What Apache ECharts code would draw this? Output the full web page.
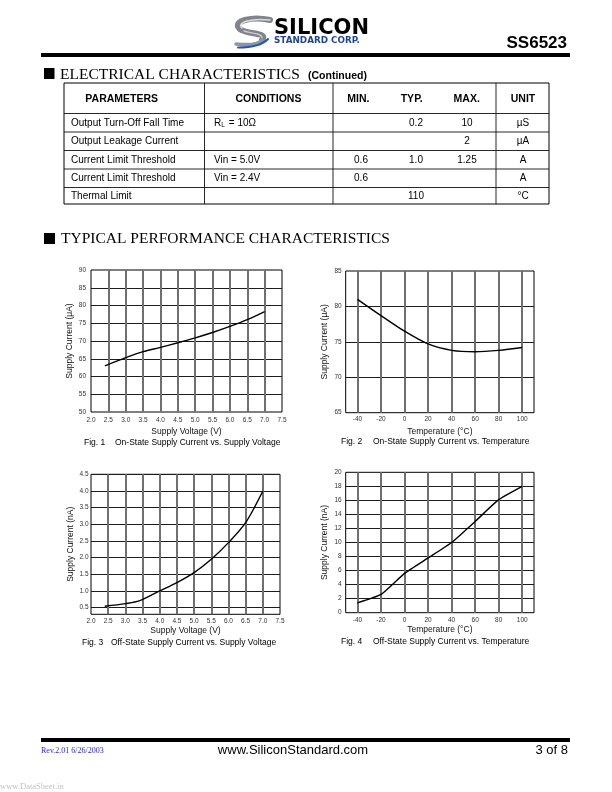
<!DOCTYPE html>
<html><head><meta charset="utf-8">
<script src="https://cdn.jsdelivr.net/npm/echarts@6/dist/echarts.min.js"></script>
<style>html,body{margin:0;padding:0;background:#fff}#c{width:612px;height:792px}</style>
</head><body><div id="c"></div>
<script>
// ---------- data ----------
const fig1Voltage = [2.4, 3.0, 3.5, 4.0, 4.5, 5.0, 5.5, 6.0, 6.5, 7.0];
const fig1Current = [63.0, 65.3, 67.0, 68.2, 69.5, 70.9, 72.4, 74.1, 76.0, 78.3];
const fig2Temp = [-40, -20, 0, 20, 40, 60, 80, 100];
const fig2Current = [81.0, 78.7, 76.5, 74.7, 73.8, 73.6, 73.8, 74.2];
const fig3Voltage = [2.4, 3.0, 3.4, 4.0, 4.5, 5.0, 5.5, 6.0, 6.5, 7.0];
const fig3Current = [0.54, 0.62, 0.70, 1.0, 1.25, 1.55, 1.95, 2.45, 3.05, 4.0];
const fig4Temp = [-40, -20, 0, 20, 40, 60, 80, 100];
const fig4Current = [1.4, 2.6, 5.6, 7.8, 10.0, 13.0, 16.1, 18.0];

const tableHeaders = ['PARAMETERS', 'CONDITIONS', 'MIN.', 'TYP.', 'MAX.', 'UNIT'];
const tableParameters = ['Output Turn-Off Fall Time', 'Output Leakage Current', 'Current Limit Threshold', 'Current Limit Threshold', 'Thermal Limit'];
const tableConditions = ['R_L = 10\u03A9', '', 'Vin = 5.0V', 'Vin = 2.4V', ''];
const tableMin = ['', '', '0.6', '0.6', ''];
const tableTyp = ['0.2', '', '1.0', '', '110'];
const tableMax = ['10', '2', '1.25', '', ''];
const tableUnit = ['\u00b5S', '\u00b5A', 'A', 'A', '\u00b0C'];

const figCaptions = ['On-State Supply Current vs. Supply Voltage', 'On-State Supply Current vs. Temperature',
                     'Off-State Supply Current vs. Supply Voltage', 'Off-State Supply Current vs. Temperature'];

// ---------- helpers ----------
const SANS = '"Liberation Sans", Arial, Helvetica, sans-serif';
const SERIF = '"Liberation Serif", "Times New Roman", serif';
const T = 'rgba(0,0,0,0)';

function txt(x, y, text, o) {
  o = o || {};
  const size = o.size || 10;
  const font = (o.bold ? 'bold ' : '') + size + 'px ' + (o.family || SANS);
  const al = o.align || 'left';
  return { type: 'text', x: x, y: y, silent: true, z: 10,
    style: { text: text, font: font, fill: o.color || '#000',
      align: al, textAlign: al, verticalAlign: 'middle', textVerticalAlign: 'middle' } };
}
function hline(x1, x2, y, w, c) {
  return { type: 'line', silent: true, z: 5, shape: { x1: x1, y1: y, x2: x2, y2: y }, style: { stroke: c || '#000', lineWidth: w || 1 } };
}
function vline(x, y1, y2, w, c) {
  return { type: 'line', silent: true, z: 5, shape: { x1: x, y1: y1, x2: x, y2: y2 }, style: { stroke: c || '#000', lineWidth: w || 1 } };
}
function rect(x, y, w, h, fill) {
  return { type: 'rect', silent: true, z: 5, shape: { x: x, y: y, width: w, height: h }, style: { fill: fill || '#000' } };
}
function bez(x1, y1, c1x, c1y, c2x, c2y, x2, y2, w, color) {
  return { type: 'bezierCurve', silent: true, z: 6,
    shape: { x1: x1, y1: y1, cpx1: c1x, cpy1: c1y, cpx2: c2x, cpy2: c2y, x2: x2, y2: y2 },
    style: { stroke: color, lineWidth: w, fill: null, lineCap: 'round' } };
}

// ---------- graphic (page furniture, table) ----------
const g = [];
// logo swoosh
g.push(bez(270, 20, 252, 16, 231, 21, 240, 29, 6, '#80848c'));
g.push(bez(240, 29, 247, 35, 269, 32, 262, 40, 6, '#80848c'));
g.push(bez(270, 20, 252, 18, 236, 22, 242, 28, 1.6, '#dcdee2'));
g.push(bez(244, 31, 252, 34, 262, 33, 262, 38, 1.4, '#c8cacf'));
g.push(bez(262, 40, 258, 45, 246, 45, 236, 44, 3.5, '#90949c'));
g.push(bez(238, 47.5, 250, 47.5, 262, 45.5, 268, 39, 2, '#1f56b8'));
g.push({ type: 'text', x: 274, y: 28.5, silent: true, z: 10,
  style: { text: 'SILICON', font: 'bold 21px "DejaVu Sans", sans-serif', align: 'left', textAlign: 'left', verticalAlign: 'middle', textVerticalAlign: 'middle',
    fill: { type: 'linear', x: 0, y: 0, x2: 0, y2: 1, colorStops: [{ offset: 0, color: '#3d74cc' }, { offset: 0.5, color: '#1d4fa6' }, { offset: 1, color: '#0c2f78' }] } } });
g.push(txt(274, 40.5, 'STANDARD CORP.', { size: 8.8, bold: true, family: '"DejaVu Sans", sans-serif', color: '#1d4595' }));
g.push(txt(567, 43.5, 'SS6523', { size: 17, bold: true, align: 'right' }));
g.push(rect(41, 53, 529, 4));

// section 1 header
g.push(rect(44, 68, 10.5, 11));
g.push(txt(60, 75, 'ELECTRICAL CHARACTERISTICS', { size: 15.5, family: SERIF }));
g.push(txt(308, 76, '(Continued)', { size: 10.5, bold: true }));

// table
const tL = 64, tR = 549, tT = 83, tB = 204;
g.push({ type: 'rect', silent: true, z: 5, shape: { x: tL, y: tT, width: tR - tL, height: tB - tT }, style: { fill: null, stroke: '#000', lineWidth: 1 } });
const rowLines = [113.5, 132, 150.5, 169, 187.5];
rowLines.forEach(function (y) { g.push(hline(tL, tR, y, 0.9, '#111')); });
[204.5, 333, 496].forEach(function (x) { g.push(vline(x, tT, tB, 0.9, '#111')); });
const headX = [121.7, 268.5, 358.3, 411.7, 466.7, 523];
tableHeaders.forEach(function (h, i) { g.push(txt(headX[i], 99.5, h, { size: 10.5, bold: true, align: 'center' })); });
const rowY = [123, 141.3, 159.8, 178.2, 196.6];
tableParameters.forEach(function (p, i) {
  const y = rowY[i];
  g.push(txt(71, y, p, { size: 10 }));
  const c = tableConditions[i];
  if (c.indexOf('R_L') === 0) {
    g.push(txt(214, y, 'R', { size: 10 }));
    g.push(txt(221.3, y + 2.5, 'L', { size: 6.5 }));
    g.push(txt(226, y, c.slice(3), { size: 10 }));
  } else if (c) {
    g.push(txt(214, y, c, { size: 10 }));
  }
  if (tableMin[i]) g.push(txt(361, y, tableMin[i], { size: 10, align: 'center' }));
  if (tableTyp[i]) g.push(txt(416, y, tableTyp[i], { size: 10, align: 'center' }));
  if (tableMax[i]) g.push(txt(467, y, tableMax[i], { size: 10, align: 'center' }));
  if (tableUnit[i]) g.push(txt(523, y, tableUnit[i], { size: 10, align: 'center' }));
});

// section 2 header
g.push(rect(44, 233, 11, 11));
g.push(txt(61, 239, 'TYPICAL PERFORMANCE CHARACTERISTICS', { size: 15.5, family: SERIF }));

// figure captions
const capPos = [[84, 115, 443], [341, 373, 442], [82, 111, 642.5], [341, 373, 641.5]];
figCaptions.forEach(function (c, i) {
  g.push(txt(capPos[i][0], capPos[i][2], 'Fig. ' + (i + 1), { size: 8.5 }));
  g.push(txt(capPos[i][1], capPos[i][2], c, { size: 8.5 }));
});

// footer
g.push(rect(41, 738, 529, 4));
g.push(txt(41, 750.5, 'Rev.2.01 6/26/2003', { size: 8, family: SERIF, color: '#2a2ae6' }));
g.push(txt(293, 750.5, 'www.SiliconStandard.com', { size: 13, align: 'center' }));
g.push(txt(568, 750.5, '3 of 8', { size: 13, align: 'right' }));
g.push(txt(0, 787, 'www.DataSheet.in', { size: 8.5, family: SERIF, color: '#c4c4c4' }));

// ---------- charts ----------
const VCOL = '#707070', HCOL = '#1c1c1c';
function fill(n, c) { const a = []; for (let i = 0; i < n; i++) a.push(c); return a; }
const vCols12 = [T].concat(fill(10, VCOL)).concat([T]);
const hCols9 = [T].concat(fill(7, HCOL)).concat([T]);
const hCols5 = [T].concat(fill(3, HCOL)).concat([T]);
const hCols11 = [T].concat(fill(9, HCOL)).concat([T]);

function grid(l, t, w, h) {
  return { left: l, top: t, width: w, height: h, show: true, borderColor: '#000', borderWidth: 1, backgroundColor: '#fff', containLabel: false };
}
const tickLabel = function (margin, fmt) {
  return { fontSize: 6.5, color: '#333', margin: margin, fontFamily: SANS, formatter: fmt, showMinLabel: true, showMaxLabel: true };
};
const nameStyle = { fontSize: 8.5, color: '#111', fontFamily: SANS };
function xAx(gi, min, max, interval, cols, fmt, margin, name, gap) {
  return { gridIndex: gi, type: 'value', min: min, max: max, interval: interval,
    axisLine: { show: false }, axisTick: { show: false },
    axisLabel: tickLabel(margin, fmt),
    splitLine: { show: true, lineStyle: { color: cols, width: 2 } },
    name: name, nameLocation: 'middle', nameGap: gap, nameTextStyle: nameStyle };
}
function yAx(gi, min, max, interval, cols, fmt, margin, name, gap) {
  return { gridIndex: gi, type: 'value', min: min, max: max, interval: interval,
    axisLine: { show: false }, axisTick: { show: false },
    axisLabel: tickLabel(margin, fmt),
    splitLine: { show: true, lineStyle: { color: cols, width: 1.2 } },
    name: name, nameLocation: 'middle', nameGap: gap, nameTextStyle: nameStyle };
}
function ser(i, xs, ys, smooth) {
  return { type: 'line', xAxisIndex: i, yAxisIndex: i, data: xs.map(function (x, k) { return [x, ys[k]]; }),
    symbol: 'none', showSymbol: false, smooth: smooth, silent: true, z: 3,
    lineStyle: { color: '#000', width: 1.4 } };
}
const f1 = function (v) { return v.toFixed(1); };
const fInt = function (v) { return String(Math.round(v)); };
const fTemp = function (v) { return (v % 20 === 0) ? String(v) : ''; };
const fHalf = function (v) { return (Math.round(v * 10) % 5 === 0) ? v.toFixed(1) : ''; };

const option = {
  animation: false,
  backgroundColor: '#fff',
  textStyle: { fontFamily: SANS },
  grid: [grid(91, 270, 191, 142), grid(345.7, 271, 188.3, 141.7), grid(91, 474.3, 189, 140), grid(345.7, 472.3, 188.3, 140.4)],
  xAxis: [
    xAx(0, 2.0, 7.5, 0.5, vCols12, f1, 5, 'Supply Voltage (V)', 15),
    xAx(1, -50, 110, 10, [T, VCOL], fTemp, 3.5, 'Temperature (\u00b0C)', 14.5),
    xAx(2, 2.0, 7.5, 0.5, vCols12, f1, 3, 'Supply Voltage (V)', 12),
    xAx(3, -50, 110, 10, [T, VCOL], fTemp, 4, 'Temperature (\u00b0C)', 12.5)
  ],
  yAxis: [
    yAx(0, 50, 90, 5, hCols9, fInt, 5, 'Supply Current (\u03bcA)', 16.5),
    yAx(1, 65, 85, 5, hCols5, fInt, 4, 'Supply Current (\u03bcA)', 16.5),
    yAx(2, 0.3, 4.5, 0.1, [T, T, HCOL, T, T], fHalf, 2.5, 'Supply Current (nA)', 16),
    yAx(3, 0, 20, 2, hCols11, fInt, 4, 'Supply Current (nA)', 16.5)
  ],
  series: [
    ser(0, fig1Voltage, fig1Current, 0.3),
    ser(1, fig2Temp, fig2Current, 0.3),
    ser(2, fig3Voltage, fig3Current, 0.3),
    ser(3, fig4Temp, fig4Current, 0.15)
  ],
  graphic: { elements: g }
};
const chart = echarts.init(document.getElementById('c'), null, { renderer: 'canvas', width: 612, height: 792 });
chart.setOption(option);
</script>
</body></html>
